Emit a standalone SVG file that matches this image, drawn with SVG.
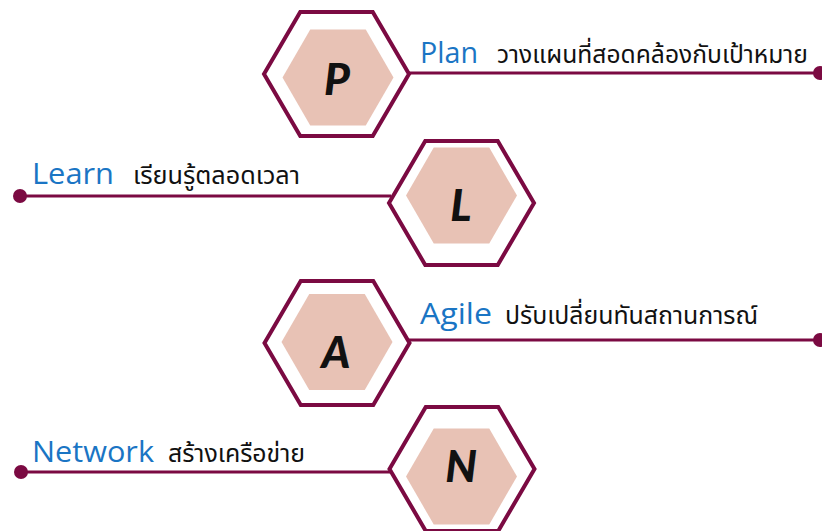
<svg xmlns="http://www.w3.org/2000/svg" width="822" height="531" viewBox="0 0 822 531">
<style>
.outer{fill:#fff;stroke:#7b0a42;stroke-width:4;stroke-linejoin:miter}
.inner{fill:#e8c2b5}
.conn{stroke:#7b0a42;stroke-width:3;fill:none}
.dot{fill:#7b0a42}
.letter{font-family:Lato,"Liberation Sans",sans-serif;font-weight:900;font-style:italic;font-size:44px;fill:#111;text-anchor:middle}
.en{font-family:"Open Sans","Noto Sans",sans-serif;font-weight:500;font-size:30px;fill:#1a75c4}
.th{font-family:"Noto Sans Thai","Noto Sans","DejaVu Sans",sans-serif;font-size:25px;fill:#111}
</style>
<defs>
<polygon id="hexO" points="-72.5,0 -36.25,-62 36.25,-62 72.5,0 36.25,62 -36.25,62"/>
<polygon id="hexI" points="-55.5,0 -27.75,-48 27.75,-48 55.5,0 27.75,48 -27.75,48"/>
</defs>
<g id="connectors">
<line class="conn" x1="408" y1="73" x2="822" y2="73"/>
<circle class="dot" cx="820" cy="73" r="7"/>
<line class="conn" x1="20" y1="196" x2="391" y2="196"/>
<circle class="dot" cx="20" cy="196" r="7"/>
<line class="conn" x1="409" y1="340" x2="822" y2="340"/>
<circle class="dot" cx="820" cy="340" r="7"/>
<line class="conn" x1="21" y1="472" x2="391" y2="472"/>
<circle class="dot" cx="21" cy="472" r="7"/>
</g>
<g id="node-P">
<use href="#hexO" class="outer" x="336.5" y="74"/>
<use href="#hexI" class="inner" x="338" y="77.5"/>
<text class="letter" x="337" y="95">P</text>
</g>
<g id="node-L">
<use href="#hexO" class="outer" x="461.5" y="203"/>
<use href="#hexI" class="inner" x="461.5" y="195.5"/>
<text class="letter" x="461" y="221">L</text>
</g>
<g id="node-A">
<use href="#hexO" class="outer" x="337" y="343"/>
<use href="#hexI" class="inner" x="337" y="342"/>
<text class="letter" x="336" y="368">A</text>
</g>
<g id="node-N">
<use href="#hexO" class="outer" x="462" y="469"/>
<use href="#hexI" class="inner" x="461.5" y="476.5"/>
<text class="letter" x="461" y="482">N</text>
</g>
<g id="labels">
<text class="en" x="420" y="63" textLength="58" lengthAdjust="spacingAndGlyphs">Plan</text>
<text class="th" x="497" y="63" textLength="311" lengthAdjust="spacingAndGlyphs">วางแผนที่สอดคล้องกับเป้าหมาย</text>
<text class="en" x="32" y="184" textLength="82" lengthAdjust="spacingAndGlyphs">Learn</text>
<text class="th" x="133" y="184" textLength="167" lengthAdjust="spacingAndGlyphs">เรียนรู้ตลอดเวลา</text>
<text class="en" x="420" y="324" textLength="72" lengthAdjust="spacingAndGlyphs">Agile</text>
<text class="th" x="505" y="324" textLength="253" lengthAdjust="spacingAndGlyphs">ปรับเปลี่ยนทันสถานการณ์</text>
<text class="en" x="32" y="462" textLength="122" lengthAdjust="spacingAndGlyphs">Network</text>
<text class="th" x="168" y="462" textLength="137" lengthAdjust="spacingAndGlyphs">สร้างเครือข่าย</text>
</g>
</svg>
